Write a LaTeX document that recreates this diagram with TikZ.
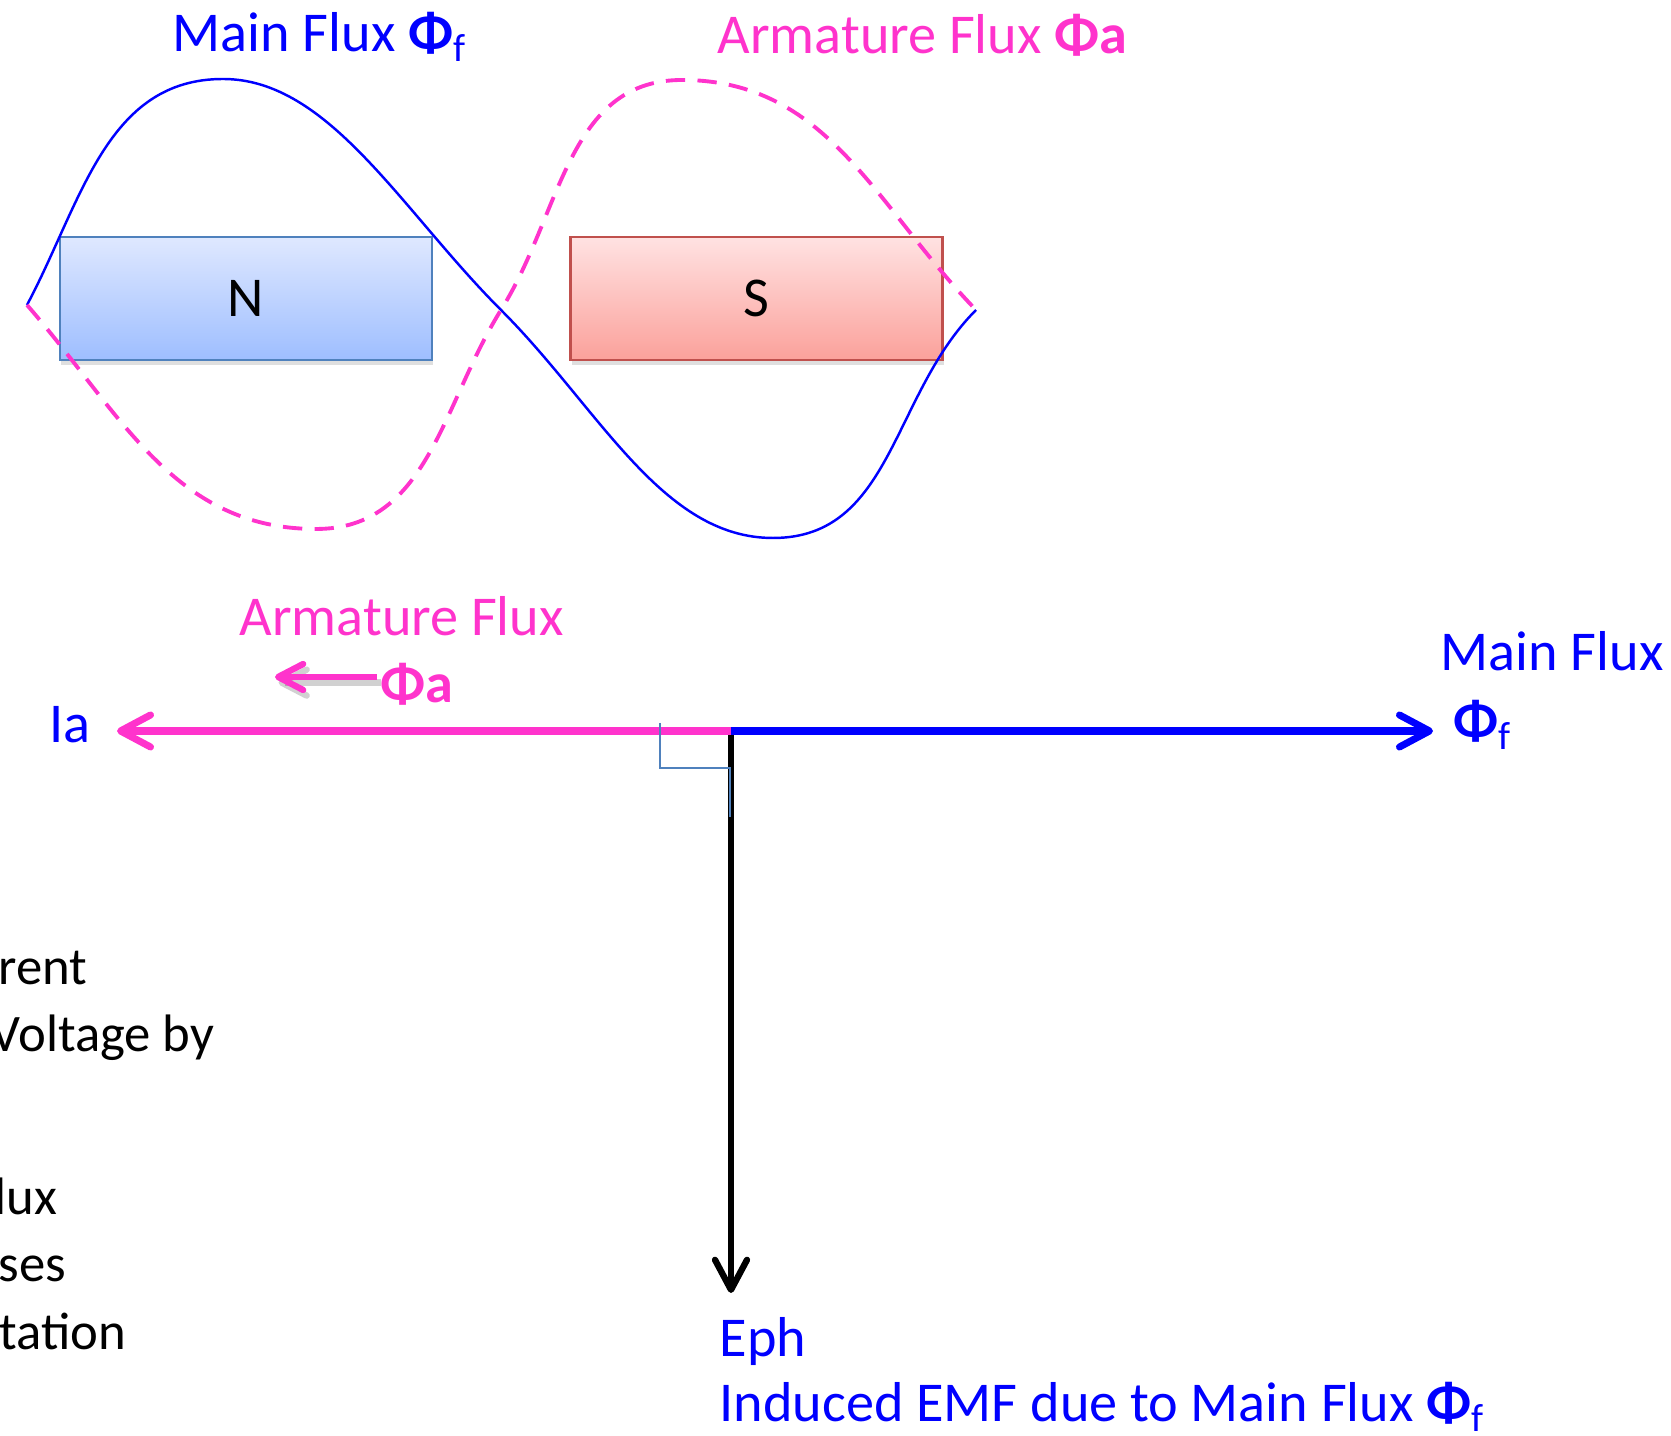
\documentclass[tikz,border=0pt]{standalone}
\usepackage{fontspec}
\setmainfont{Carlito}
\usetikzlibrary{arrows.meta,shadows}
\definecolor{fluxblue}{HTML}{0000FF}
\definecolor{fluxpink}{HTML}{FF33CC}
\definecolor{polerim}{HTML}{4F81BD}
\definecolor{northtop}{HTML}{DFE8FF}
\definecolor{northbot}{HTML}{9EBEFF}
\definecolor{southtop}{HTML}{FFE2E2}
\definecolor{southbot}{HTML}{FBA19B}
\definecolor{southrim}{HTML}{C0504D}

\begin{document}
\begin{tikzpicture}[font=\fontsize{16}{19.5}\selectfont,
  pole/.style={minimum width=3.72cm,minimum height=1.23cm,line width=0.6pt,
    drop shadow={shadow xshift=0.4pt,shadow yshift=-1.4pt,opacity=0.25}},
  phasor/.style={line width=2pt,-{Straight Barb[length=3mm,width=3.2mm,round]}},
  lbl/.style={inner sep=0pt,anchor=base west}]
  \useasboundingbox (0,0) rectangle (16.71,-14.36);
  % the two poles
  \node[pole,draw=polerim,top color=northtop,bottom color=northbot] (north) at (2.46,-2.985) {N};
  \node[pole,draw=southrim,top color=southtop,bottom color=southbot] (south) at (7.565,-2.985) {S};
  % main flux wave and armature flux wave
  \draw[fluxblue,line width=0.7pt] (0.27,-3.05) to[out=62,in=180] (2.23,-0.79)
     to[out=0,in=135,out looseness=0.75] (5.01,-3.10) to[out=-45,in=180,in looseness=0.8] (7.73,-5.38)
     to[out=0,in=-135] (9.76,-3.10);
  \draw[fluxpink,line width=1.1pt,dash pattern=on 5.5pt off 3.5pt] (0.27,-3.05) to[out=-49,in=180] (3.16,-5.29)
     to[out=0,in=-122] (5.01,-3.10) to[out=58,in=180] (6.82,-0.80) to[out=0,in=134] (9.76,-3.10);
  \node[lbl,text=fluxblue] (mainflux) at (1.72,-0.52) {Main Flux \textbf{Φ}\textsubscript{f}};
  \node[lbl,text=fluxpink] (armflux) at (7.17,-0.54) {Armature Flux \textbf{Φa}};
  % phasors
  \coordinate (O) at (7.31,-7.31);
  \coordinate (iatip) at (1.17,-7.31);
  \coordinate (phiftip) at (14.33,-7.31);
  \coordinate (ephtip) at (7.31,-12.93);
  \draw[phasor,black,line width=1.8pt] (O) -- (ephtip);
  \draw[phasor,fluxpink] (O) -- (iatip);
  \draw[phasor,fluxblue] (O) -- (phiftip);
  \draw[polerim,line width=0.5pt] (6.60,-7.23) -- (6.60,-7.68) -- (7.30,-7.68) -- (7.30,-8.17);
  % armature flux direction
  \node[lbl,text=fluxpink] (armlabel) at (2.39,-6.36) {Armature Flux};
  \node[lbl,text=fluxpink] (phia) at (3.80,-7.03) {\textbf{Φa}};
  \coordinate (phatail) at (3.77,-6.77);
  \coordinate (phatip) at (2.75,-6.77);
  \draw[black,opacity=0.18,line width=1.8pt,transform canvas={xshift=1pt,yshift=-1.6pt},
     -{Straight Barb[length=2.5mm,width=2.6mm,round]}] (phatail) -- (phatip);
  \draw[fluxpink,line width=1.8pt,-{Straight Barb[length=2.5mm,width=2.6mm,round]}] (phatail) -- (phatip);
  % phasor labels
  \node[lbl,text=fluxblue] (ia) at (0.49,-7.43) {Ia};
  \node[lbl,text=fluxblue] (mainfluxr) at (14.40,-6.71) {Main Flux};
  \node[lbl,text=fluxblue] (phif) at (14.53,-7.40) {\textbf{Φ}\textsubscript{f}};
  \node[lbl,text=fluxblue] (eph) at (7.19,-13.57) {Eph};
  \node[lbl,text=fluxblue] (emf) at (7.19,-14.22) {Induced EMF due to Main Flux \textbf{Φ}\textsubscript{f}};
  % text cut off at the left edge
  \foreach \txt/\xr/\yb [count=\k] in {rent/0.88/9.85,Voltage by/2.15/10.52,lux/0.58/12.15,ses/0.67/12.82,tation/1.27/13.50}
     {\node[inner sep=0pt,anchor=base east,font=\fontsize{15}{18}\selectfont] (side\k) at (\xr,-\yb) {\txt};}
\end{tikzpicture}
\end{document}
